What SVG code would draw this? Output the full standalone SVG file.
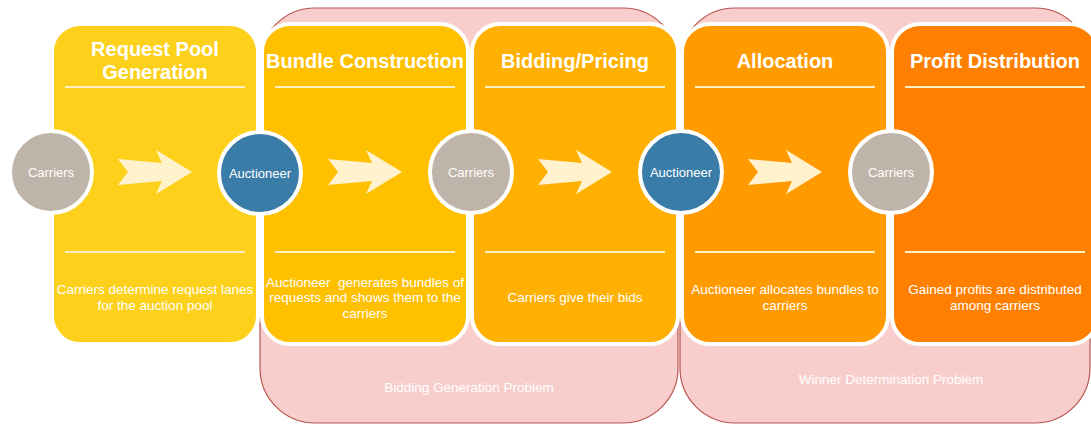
<svg xmlns="http://www.w3.org/2000/svg" width="1091" height="425" viewBox="0 0 1091 425">
<defs>
<style>
.grp{fill:#f8cecc;stroke:#b85450;stroke-width:1.2}
.grpt{font-family:"Liberation Sans",Arial,sans-serif;font-size:13.5px;fill:#ffffff;text-anchor:middle}
.box{stroke:#ffffff;stroke-width:4}
.title{font-family:"Liberation Sans",Arial,sans-serif;font-size:20px;font-weight:bold;fill:#ffffff;text-anchor:middle}
.desc{font-family:"Liberation Sans",Arial,sans-serif;font-size:13.5px;fill:#ffffff;text-anchor:middle}
.sep{stroke:#fff0c4;stroke-width:2}
.car{fill:#bfb4a9;stroke:#ffffff;stroke-width:4}
.auc{fill:#3a7ca8;stroke:#ffffff;stroke-width:4}
.ctext{font-family:"Liberation Sans",Arial,sans-serif;font-size:13px;fill:#ffffff;text-anchor:middle}
.arr{fill:#fff2cc}
</style>
</defs>
<rect width="1091" height="425" fill="#ffffff"/>
<g id="group-bidding-generation">
<rect class="grp" x="260" y="8" width="418" height="415" rx="55" ry="55"/>
<text class="grpt" x="469" y="392">Bidding Generation Problem</text>
</g>
<g id="group-winner-determination">
<rect class="grp" x="680" y="8" width="410" height="415" rx="55" ry="55"/>
<text class="grpt" x="891" y="384">Winner Determination Problem</text>
</g>
<g id="stage-request-pool">
<rect class="box" x="52" y="24" width="206" height="320" rx="28" ry="28" fill="#fdd11b"/>
<text class="title" x="155" y="56">Request Pool</text>
<text class="title" x="155" y="79">Generation</text>
<line class="sep" x1="65" y1="87" x2="245" y2="87"/>
<line class="sep" x1="65" y1="252" x2="245" y2="252"/>
<text class="desc" x="155" y="294">Carriers determine request lanes</text>
<text class="desc" x="155" y="310">for the auction pool</text>
</g>
<g id="stage-bundle-construction">
<rect class="box" x="262" y="24" width="206" height="320" rx="28" ry="28" fill="#ffc000"/>
<text class="title" x="365" y="68">Bundle Construction</text>
<line class="sep" x1="275" y1="87" x2="455" y2="87"/>
<line class="sep" x1="275" y1="252" x2="455" y2="252"/>
<text class="desc" x="365" y="287" xml:space="preserve">Auctioneer  generates bundles of</text>
<text class="desc" x="365" y="302">requests and shows them to the</text>
<text class="desc" x="365" y="318">carriers</text>
</g>
<g id="stage-bidding-pricing">
<rect class="box" x="472" y="24" width="206" height="320" rx="28" ry="28" fill="#ffb000"/>
<text class="title" x="575" y="68">Bidding/Pricing</text>
<line class="sep" x1="485" y1="87" x2="665" y2="87"/>
<line class="sep" x1="485" y1="252" x2="665" y2="252"/>
<text class="desc" x="575" y="302">Carriers give their bids</text>
</g>
<g id="stage-allocation">
<rect class="box" x="682" y="24" width="206" height="320" rx="28" ry="28" fill="#ff9a00"/>
<text class="title" x="785" y="68">Allocation</text>
<line class="sep" x1="695" y1="87" x2="875" y2="87"/>
<line class="sep" x1="695" y1="252" x2="875" y2="252"/>
<text class="desc" x="785" y="294">Auctioneer allocates bundles to</text>
<text class="desc" x="785" y="310">carriers</text>
</g>
<g id="stage-profit-distribution">
<rect class="box" x="892" y="24" width="206" height="320" rx="28" ry="28" fill="#ff8000"/>
<text class="title" x="995" y="68">Profit Distribution</text>
<line class="sep" x1="905" y1="87" x2="1085" y2="87"/>
<line class="sep" x1="905" y1="252" x2="1085" y2="252"/>
<text class="desc" x="995" y="294">Gained profits are distributed</text>
<text class="desc" x="995" y="310">among carriers</text>
</g>
<g id="connectors">
<polygon class="arr" points="118,159 162,163 156,150 192,172 156,194 162,181 118,185 128,172"/>
<polygon class="arr" points="328,159 372,163 366,150 402,172 366,194 372,181 328,185 338,172"/>
<polygon class="arr" points="538,159 582,163 576,150 612,172 576,194 582,181 538,185 548,172"/>
<polygon class="arr" points="748,159 792,163 786,150 822,172 786,194 792,181 748,185 758,172"/>
</g>
<g id="node-carriers-1">
<circle class="car" cx="51" cy="172" r="41"/>
<text class="ctext" x="51" y="176.5">Carriers</text>
</g>
<g id="node-auctioneer-1">
<circle class="auc" cx="260" cy="173" r="41"/>
<text class="ctext" x="260" y="177.5">Auctioneer</text>
</g>
<g id="node-carriers-2">
<circle class="car" cx="471" cy="172" r="41"/>
<text class="ctext" x="471" y="176.5">Carriers</text>
</g>
<g id="node-auctioneer-2">
<circle class="auc" cx="681" cy="172" r="41"/>
<text class="ctext" x="681" y="176.5">Auctioneer</text>
</g>
<g id="node-carriers-3">
<circle class="car" cx="891" cy="172" r="41"/>
<text class="ctext" x="891" y="176.5">Carriers</text>
</g>
</svg>
